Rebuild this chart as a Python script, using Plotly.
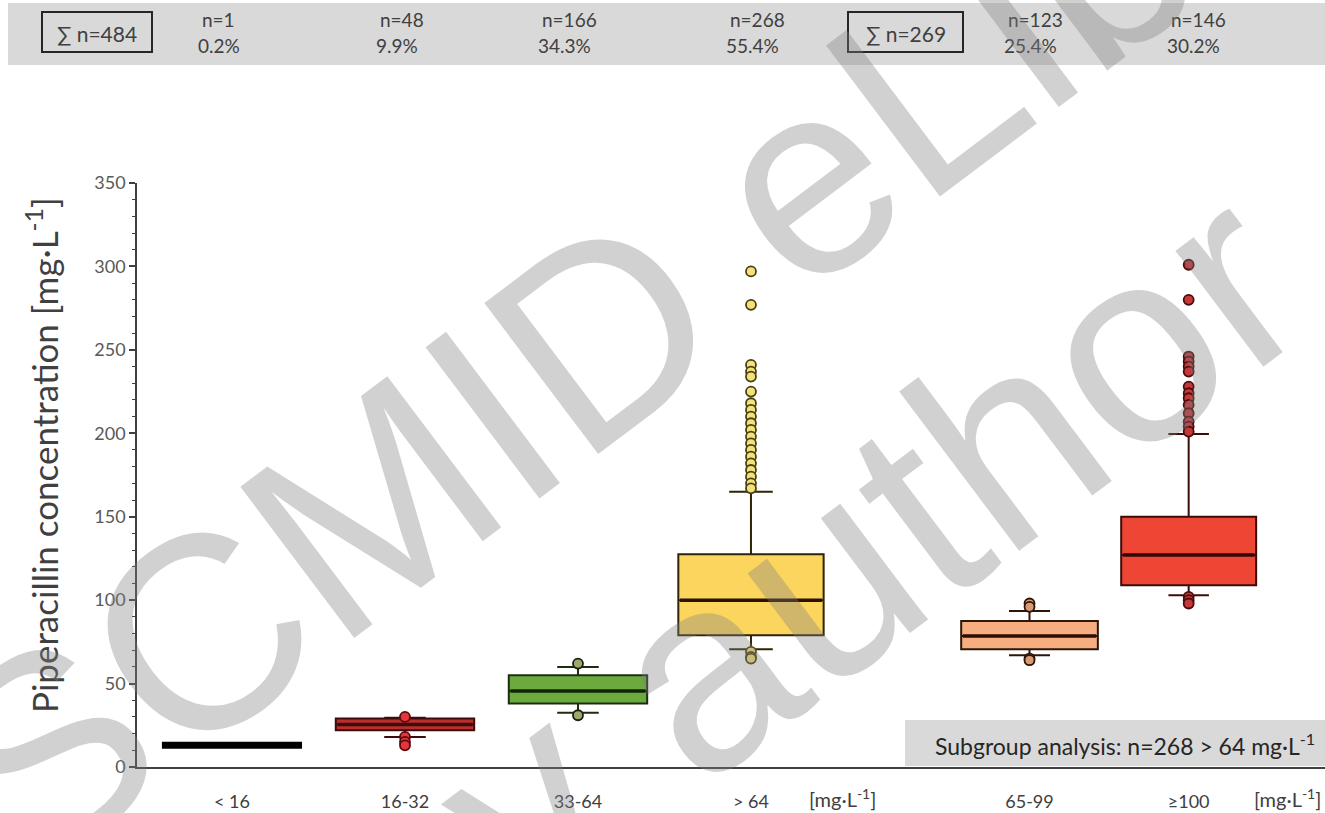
import plotly.graph_objects as go

# ---------------- data ----------------
categories = ["< 16", "16-32", "33-64", "> 64", "65-99", "≥100"]
q1 = [13, 22, 38, 79, 70.5, 109]
median = [13, 25.5, 45.5, 100, 78.5, 127]
q3 = [13, 29, 55, 127.5, 87.5, 150]
lowerfence = [13, 18, 32.5, 70.5, 67, 103]
upperfence = [13, 29.5, 60, 165, 93.5, 199.5]
outliers = [
    [],
    [30, 18, 15, 13],
    [62, 31],
    [297, 277, 241, 237, 234, 225, 218, 214, 210, 206, 202, 198, 194, 190,
     186, 182, 178, 174, 170, 167, 69, 66, 65],
    [98, 96, 65, 64],
    [301, 280, 246, 243, 240, 237, 228, 224, 221, 217, 212, 207, 204, 201,
     102, 100, 98],
]
header_n = ["n=1", "n=48", "n=166", "n=268", "n=123", "n=146"]
header_pct = ["0.2%", "9.9%", "34.3%", "55.4%", "25.4%", "30.2%"]
totals = ["∑ n=484", "∑ n=269"]
subgroup_text = "Subgroup analysis: n=268 > 64 mg·L<sup>-1</sup>"
unit_text = "[mg·L<sup>-1</sup>]"
y_title = "Piperacillin concentration [mg·L<sup>-1</sup>]"
watermark = ["ESCMID eLibrary", "© by author"]

# ---------------- layout constants ----------------
W, H = 1325, 813
positions = [0, 1, 2, 3, 4.61, 5.53]
box_widths = [0.81, 0.80, 0.80, 0.84, 0.79, 0.78]
fills = ["#000000", "#B8302E", "#6BAA3D", "#FCD55E", "#F6AE80", "#EE4634"]
box_lines = ["#000000", "#3d0c0c", "#1c2e10", "#2e2406", "#2c1608", "#3a0c0a"]
median_col = ["#000000", "#3d0c0c", "#142208", "#2a1200", "#2a0e02", "#2e0806"]
line_w = [7, 2, 2, 2, 2, 2]
out_fill = ["#000000", "#E8343C", "#9BAA6A", "#F2E27C", "#D99A72", "#C4383A"]
out_line = ["#000000", "#5a0a0a", "#1a1f10", "#4a4010", "#2a1508", "#4a0c0c"]

def fx(px):
    return px / W

def fy(py):
    return 1 - py / H

FONT = "Lato, 'Open Sans', sans-serif"
TXT = "#404040"

fig = go.Figure()

for i, cat in enumerate(categories):
    fig.add_trace(go.Box(
        x=[positions[i]], q1=[q1[i]], median=[median[i]], q3=[q3[i]],
        lowerfence=[lowerfence[i]], upperfence=[upperfence[i]],
        width=box_widths[i], whiskerwidth=0.3,
        fillcolor=fills[i], line=dict(color=box_lines[i], width=line_w[i]),
        boxpoints=False, name=cat, showlegend=False, hoverinfo="skip",
    ))
    if i > 0:
        half = box_widths[i] / 2 - 0.01
        fig.add_trace(go.Scatter(
            x=[positions[i] - half, positions[i] + half], y=[median[i], median[i]],
            mode="lines", line=dict(color=median_col[i], width=3.5),
            showlegend=False, hoverinfo="skip",
        ))
    if outliers[i]:
        fig.add_trace(go.Scatter(
            x=[positions[i]] * len(outliers[i]), y=outliers[i], mode="markers",
            marker=dict(size=10, color=out_fill[i], line=dict(color=out_line[i], width=1.8)),
            showlegend=False, hoverinfo="skip",
        ))

shapes = []
annotations = []

# header band
shapes.append(dict(type="rect", xref="paper", yref="paper", x0=fx(8), x1=fx(1325),
                   y0=fy(65), y1=fy(3), fillcolor="#D9D9D9", line=dict(width=0), layer="below"))
for (bx0, bx1), t in zip([(42, 152), (848, 963)], totals):
    shapes.append(dict(type="rect", xref="paper", yref="paper", x0=fx(bx0), x1=fx(bx1),
                       y0=fy(52), y1=fy(12), line=dict(color="#262626", width=2)))
    annotations.append(dict(x=fx((bx0 + bx1) / 2), y=fy(33), xref="paper", yref="paper",
                            text=t, showarrow=False, font=dict(family=FONT, size=21, color=TXT),
                            xanchor="center", yanchor="middle"))
hdr_x = [222, 400, 562, 750, 1028, 1191]
for hx, n, p in zip(hdr_x, header_n, header_pct):
    annotations.append(dict(x=fx(hx - 22), y=fy(19), xref="paper", yref="paper", text=n,
                            showarrow=False, font=dict(family=FONT, size=19, color=TXT),
                            xanchor="left", yanchor="middle"))
    annotations.append(dict(x=fx(hx - 26), y=fy(45), xref="paper", yref="paper", text=p,
                            showarrow=False, font=dict(family=FONT, size=19, color=TXT),
                            xanchor="left", yanchor="middle"))

# subgroup box
shapes.append(dict(type="rect", xref="paper", yref="paper", x0=fx(905), x1=fx(1325),
                   y0=fy(766), y1=fy(720), fillcolor="#D9D9D9", line=dict(width=0), layer="below"))
annotations.append(dict(x=fx(1125), y=fy(744), xref="paper", yref="paper", text=subgroup_text,
                        showarrow=False, font=dict(family=FONT, size=23, color="#262626"),
                        xanchor="center", yanchor="middle"))

# unit labels on x axis
for ux in (842, 1287):
    annotations.append(dict(x=fx(ux), y=fy(798), xref="paper", yref="paper", text=unit_text,
                            showarrow=False, font=dict(family=FONT, size=20, color=TXT),
                            xanchor="center", yanchor="middle"))

# y-axis title
annotations.append(dict(x=fx(42), y=fy(455), xref="paper", yref="paper", text=y_title,
                        textangle=-90, showarrow=False,
                        font=dict(family=FONT, size=35, color=TXT),
                        xanchor="center", yanchor="middle"))

# watermark
for (wx, wy), wt in zip([(682, 272), (695, 676)], watermark):
    annotations.append(dict(x=fx(wx), y=fy(wy), xref="paper", yref="paper", text=wt,
                            textangle=-37, showarrow=False,
                            font=dict(family="'Liberation Sans', Arial, sans-serif", size=275,
                                      color="rgba(128,128,128,0.36)"),
                            xanchor="center", yanchor="middle"))

fig.update_layout(
    width=W, height=H,
    margin=dict(l=0, r=0, t=0, b=0, autoexpand=False),
    paper_bgcolor="white", plot_bgcolor="white",
    font=dict(family=FONT, color=TXT),
    shapes=shapes, annotations=annotations,
    xaxis=dict(domain=[fx(137), 1.0], range=[-0.549, 6.318], showgrid=False, zeroline=False,
               showline=True, linecolor="#404040", linewidth=2, ticks="",
               tickvals=positions, ticktext=categories, ticklabelstandoff=17,
               tickfont=dict(family=FONT, size=18, color=TXT)),
    yaxis=dict(domain=[fy(767), fy(183)], range=[0, 350], showgrid=False, zeroline=False,
               showline=True, linecolor="#404040", linewidth=1.5,
               tickvals=list(range(0, 351, 50)), ticks="outside", ticklen=6, tickwidth=1.5,
               tickcolor="#404040",
               minor=dict(dtick=10, ticks="outside", ticklen=3, tickcolor="#404040", tickwidth=1),
               tickfont=dict(family=FONT, size=18, color="#595959")),
)

fig.write_html(
    "out.html",
    config={"displayModeBar": False},
    post_script="document.body.style.margin='0';document.body.style.overflow='hidden';",
)
